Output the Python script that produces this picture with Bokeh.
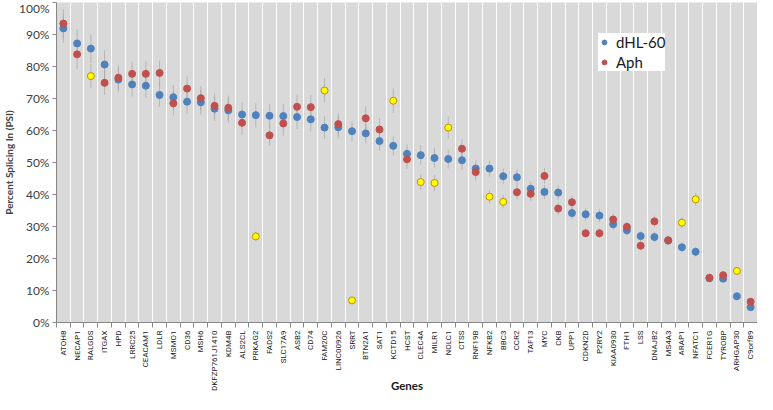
from bokeh.plotting import figure
from bokeh.models import FixedTicker, Legend, LegendItem, PrintfTickFormatter
from bokeh.embed import file_html
from bokeh.resources import INLINE
from math import pi

genes = ["ATOH8", "NECAP1", "RALGDS", "ITGAX", "HPD", "LRRC25", "CEACAM1", "LDLR", "MSMO1", "CD36",
         "MSH6", "DKFZP761J1410", "KDM4B", "ALS2CL", "PRKAG2", "FADS2", "SLC17A9", "ASB2", "CD74", "FAM20C",
         "LINC00926", "SRRT", "BTN2A1", "SAT1", "KCTD15", "HCST", "CLEC4A", "MILR1", "NOLC1", "CTSS",
         "RNF19B", "NFKB2", "BBC3", "CCR2", "TAF13", "MYC", "CKB", "UPP1", "CDKN2D", "P2RY2",
         "KIAA0930", "FTH1", "LSS", "DNAJB2", "MS4A3", "ARAP1", "NFATC1", "FCER1G", "TYROBP", "ARHGAP30", "C9orf89"]

dhl60 = [91.9, 87.2, 85.6, 80.6, 75.9, 74.4, 74.0, 71.1, 70.4, 69.0,
         68.8, 66.8, 66.3, 65.0, 64.8, 64.6, 64.5, 64.2, 63.5, 60.9,
         61.0, 59.8, 59.1, 56.7, 55.2, 52.7, 52.3, 51.4, 51.1, 50.7,
         48.1, 48.1, 45.7, 45.4, 41.8, 40.8, 40.6, 34.2, 33.8, 33.4,
         30.7, 28.8, 27.0, 26.7, 25.6, 23.5, 22.1, 13.8, 13.7, 8.2, 4.8]
dhl60_err = [4.5, 4.5, 4.5, 4.5, 3.8, 3.8, 3.8, 3.8, 3.8, 3.8,
             3.8, 3.8, 3.8, 3.8, 3.8, 3.8, 3.8, 3.8, 3.8, 3.5,
             3.5, 3.2, 3.2, 3.0, 3.0, 3.0, 3.0, 3.0, 3.0, 3.0,
             2.5, 2.5, 2.5, 2.5, 2.2, 2.2, 2.2, 2.0, 2.0, 2.0,
             1.8, 1.5, 1.5, 1.5, 1.5, 1.5, 1.5, 1.0, 1.0, 0.8, 0.6]

aph = [93.4, 83.8, 77.0, 74.9, 76.5, 77.7, 77.7, 78.0, 68.5, 73.1,
       70.1, 67.7, 67.1, 62.4, 26.9, 58.5, 62.2, 67.4, 67.3, 72.5,
       62.0, 6.9, 63.8, 60.3, 69.3, 51.0, 43.9, 43.6, 60.9, 54.3,
       47.0, 39.3, 37.7, 40.7, 40.2, 45.8, 35.6, 37.6, 27.9, 27.9,
       32.2, 29.9, 24.0, 31.6, 25.7, 31.2, 38.5, 14.0, 14.8, 16.1, 6.5]
aph_err = [4.5, 4.5, 3.8, 3.8, 3.8, 3.8, 3.8, 3.8, 3.8, 3.8,
           3.8, 3.8, 3.8, 3.8, 1.5, 3.2, 3.8, 3.8, 3.8, 3.8,
           3.5, 0.8, 3.8, 3.5, 3.8, 3.0, 2.5, 2.5, 3.5, 3.0,
           2.5, 2.0, 2.0, 2.2, 2.2, 2.5, 2.0, 2.0, 1.5, 1.5,
           1.8, 1.5, 1.5, 1.8, 1.5, 1.8, 2.0, 1.0, 1.0, 1.0, 0.6]

highlighted = ["RALGDS", "PRKAG2", "FAM20C", "SRRT", "KCTD15", "CLEC4A", "MILR1", "NOLC1",
               "NFKB2", "BBC3", "ARAP1", "NFATC1", "ARHGAP30"]

y_ticks = list(range(0, 101, 10))

BLUE = "#4f81bd"
RED = "#c0504d"
YELLOW = "#ffff00"
YELLOW_EDGE = "#bf9000"
FONT = "Lato"
XFONT = "Roboto"

n = len(genes)
xs = [i + 0.5 for i in range(n)]

p = figure(width=757, height=394, x_range=(0, n), y_range=(0, 100),
           output_backend="svg", toolbar_location=None,
           min_border_left=46, min_border_right=0, min_border_top=2, min_border_bottom=70)
p.background_fill_color = "#d9d9d9"
p.border_fill_color = "white"
p.outline_line_color = None

p.ygrid.grid_line_color = None
p.xgrid.ticker = FixedTicker(ticks=list(range(n + 1)))
p.xgrid.grid_line_color = "white"
p.xgrid.grid_line_width = 1

# x axis
p.xaxis.ticker = FixedTicker(ticks=xs, minor_ticks=list(range(n + 1)))
p.xaxis.major_label_overrides = {x: g for x, g in zip(xs, genes)}
p.xaxis.major_label_orientation = pi / 2
p.xaxis.major_tick_line_color = None
p.xaxis.major_tick_out = 0
p.xaxis.major_tick_in = 0
p.xaxis.minor_tick_out = 5
p.xaxis.minor_tick_in = 0
p.xaxis.minor_tick_line_color = "#868686"
p.xaxis.axis_line_color = "#868686"
p.xaxis.major_label_text_font = XFONT
p.xaxis.major_label_text_font_size = "8px"
p.xaxis.major_label_text_color = "#1a1a1a"
p.xaxis.major_label_standoff = 3
p.xaxis.axis_label = "Genes"
p.xaxis.axis_label_text_font = FONT
p.xaxis.axis_label_text_font_style = "bold"
p.xaxis.axis_label_text_font_size = "11.5px"
p.xaxis.axis_label_text_color = "#1a1a1a"
p.xaxis.axis_label_standoff = -15

# y axis
p.yaxis.ticker = FixedTicker(ticks=y_ticks)
p.yaxis.formatter = PrintfTickFormatter(format="%d%%")
p.yaxis.major_tick_out = 4
p.yaxis.major_tick_in = 0
p.yaxis.minor_tick_line_color = None
p.yaxis.major_tick_line_color = "#868686"
p.yaxis.axis_line_color = "#868686"
p.yaxis.major_label_text_font = FONT
p.yaxis.major_label_text_font_size = "12px"
p.yaxis.major_label_text_color = "#404040"
p.yaxis.major_label_standoff = 3
p.yaxis.axis_label = "Percent Splicing In (PSI)"
p.yaxis.axis_label_text_font = FONT
p.yaxis.axis_label_text_font_style = "bold"
p.yaxis.axis_label_text_font_size = "10px"
p.yaxis.axis_label_standoff = 1

# error bars
p.segment(x0=xs, x1=xs,
          y0=[v - e for v, e in zip(dhl60, dhl60_err)],
          y1=[v + e for v, e in zip(dhl60, dhl60_err)],
          line_color="#a6a6a6", line_width=1, line_alpha=0.7)
p.segment(x0=xs, x1=xs,
          y0=[v - e for v, e in zip(aph, aph_err)],
          y1=[v + e for v, e in zip(aph, aph_err)],
          line_color="#a6a6a6", line_width=1, line_alpha=0.7)

# points
r_blue = p.scatter(xs, dhl60, size=7, fill_color=BLUE, line_color=BLUE)
ax_red = [x for x, g in zip(xs, genes) if g not in highlighted]
ay_red = [v for v, g in zip(aph, genes) if g not in highlighted]
ax_yel = [x for x, g in zip(xs, genes) if g in highlighted]
ay_yel = [v for v, g in zip(aph, genes) if g in highlighted]
r_red = p.scatter(ax_red, ay_red, size=7, fill_color=RED, line_color=RED)
p.scatter(ax_yel, ay_yel, size=7, fill_color=YELLOW, line_color=YELLOW_EDGE, line_width=1)

legend = Legend(items=[LegendItem(label="dHL-60", renderers=[r_blue]),
                       LegendItem(label="Aph", renderers=[r_red])],
                location=(542, 251))
legend.background_fill_color = "white"
legend.background_fill_alpha = 1
legend.border_line_color = None
legend.label_text_font = FONT
legend.label_text_font_size = "15px"
legend.label_text_color = "#1a1a1a"
legend.glyph_width = 12
legend.glyph_height = 12
legend.spacing = 2
legend.padding = 5
legend.margin = 0
legend.label_standoff = 6
p.add_layout(legend)

open("out.html", "w").write(file_html(p, INLINE))
